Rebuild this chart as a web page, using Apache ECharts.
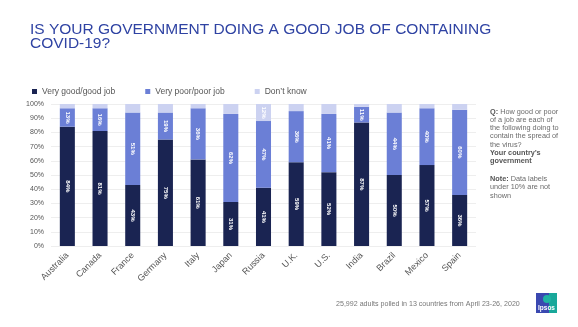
<!DOCTYPE html>
<html>
<head>
<meta charset="utf-8">
<script src="https://cdn.jsdelivr.net/npm/echarts@6/dist/echarts.min.js"></script>
<style>
  html, body { margin: 0; padding: 0; background: #ffffff; }
  #chart { width: 578px; height: 327px; }
</style>
</head>
<body>
<div id="chart"></div>
<script>
// Survey results by country (percent of respondents)
const countries = ['Australia', 'Canada', 'France', 'Germany', 'Italy', 'Japan', 'Russia', 'U.K.', 'U.S.', 'India', 'Brazil', 'Mexico', 'Spain'];
const goodJob = [84, 81, 43, 75, 61, 31, 41, 59, 52, 87, 50, 57, 36];
const poorJob = [13, 16, 51, 19, 36, 62, 47, 36, 41, 11, 44, 40, 60];
const dontKnow = [3, 3, 6, 6, 3, 7, 12, 5, 7, 2, 6, 3, 4];
const yTicks = [0, 10, 20, 30, 40, 50, 60, 70, 80, 90, 100];

const seriesNames = ['Very good/good job', 'Very poor/poor job', "Don\u2019t know"];
const seriesColors = ['#1a2452', '#6b7fd6', '#ccd2f1'];
const seriesData = [goodJob, poorJob, dontKnow];

const FONT = '"Liberation Sans", Arial, Helvetica, sans-serif';

const chart = echarts.init(document.getElementById('chart'), null, { renderer: 'canvas' });

const series = seriesData.map((data, i) => ({
  name: seriesNames[i],
  type: 'bar',
  stack: 'total',
  barWidth: '46%',
  data: data,
  itemStyle: { color: seriesColors[i] },
  label: {
    show: true,
    position: 'inside',
    rotate: -90,
    color: '#ffffff',
    fontFamily: FONT,
    fontSize: 6,
    fontWeight: 'bold',
    // labels under 10% are left out
    formatter: p => (p.value >= 10 ? p.value + '%' : '')
  }
}));

chart.setOption({
  animation: false,
  backgroundColor: '#ffffff',
  textStyle: { fontFamily: FONT },
  title: {
    text: 'IS YOUR GOVERNMENT DOING A GOOD JOB OF CONTAINING\nCOVID-19?',
    left: 25,
    top: 18,
    textStyle: {
      color: '#2f43a3',
      fontFamily: FONT,
      fontSize: 15.5,
      fontWeight: 'normal',
      lineHeight: 14
    }
  },
  legend: {
    left: 27,
    top: 82,
    itemWidth: 5,
    itemHeight: 5,
    itemGap: 30,
    icon: 'rect',
    textStyle: { color: '#555555', fontSize: 8.5, fontFamily: FONT },
    data: seriesNames
  },
  grid: { left: 51, right: 102, top: 104, bottom: 81, containLabel: false },
  xAxis: {
    type: 'category',
    data: countries,
    axisLine: { show: false },
    axisTick: { show: false },
    axisLabel: {
      rotate: 45,
      color: '#555555',
      fontSize: 9,
      fontFamily: FONT,
      margin: 8,
      interval: 0
    }
  },
  yAxis: {
    type: 'value',
    min: yTicks[0],
    max: yTicks[yTicks.length - 1],
    interval: 10,
    axisLine: { show: false },
    axisTick: { show: false },
    splitLine: { lineStyle: { color: '#eeeeee', width: 1 } },
    axisLabel: {
      color: '#555555',
      fontSize: 7,
      fontFamily: FONT,
      margin: 7,
      formatter: v => v + '%'
    }
  },
  series: series,
  graphic: [
    {
      type: 'text',
      left: 490,
      top: 108,
      style: {
        rich: {
          b: { fontWeight: 'bold', fontSize: 7.3, fill: '#555555', fontFamily: FONT, lineHeight: 8.3 },
          n: { fontSize: 7.3, fill: '#6b6b6b', fontFamily: FONT, lineHeight: 8.3 },
          gap: { fontSize: 6, lineHeight: 9.5 }
        },
        text: [
          '{b|Q:}{n| How good or poor}',
          '{n|of a job are each of}',
          '{n|the following doing to}',
          '{n|contain the spread of}',
          '{n|the virus?}',
          "{b|Your country\u2019s}",
          '{b|government}',
          '{gap| }',
          '{b|Note:}{n| Data labels}',
          '{n|under 10% are not}',
          '{n|shown}'
        ].join('\n')
      }
    },
    {
      type: 'text',
      left: 336,
      top: 301,
      style: {
        text: '25,992 adults polled in 13 countries from April 23-26, 2020',
        fill: '#777777',
        fontSize: 7.1,
        fontFamily: FONT
      }
    },
    {
      type: 'group',
      left: 536,
      top: 293,
      children: [
        {
          type: 'rect',
          shape: { x: 0, y: 0, width: 21, height: 20 },
          style: {
            fill: new echarts.graphic.LinearGradient(0, 0, 1, 0, [
              { offset: 0, color: '#3a48b0' },
              { offset: 0.6, color: '#3a48b0' },
              { offset: 0.61, color: '#19a89a' },
              { offset: 1, color: '#19a89a' }
            ])
          }
        },
        {
          type: 'circle',
          shape: { cx: 11, cy: 6, r: 4 },
          style: { fill: '#1fb3a3' }
        },
        {
          type: 'text',
          style: {
            x: 10.5, y: 15, text: 'Ipsos', fill: '#ffffff',
            fontSize: 6.5, fontWeight: 'bold', fontFamily: FONT,
            align: 'center', verticalAlign: 'middle'
          }
        }
      ]
    }
  ]
});
</script>
</body>
</html>
